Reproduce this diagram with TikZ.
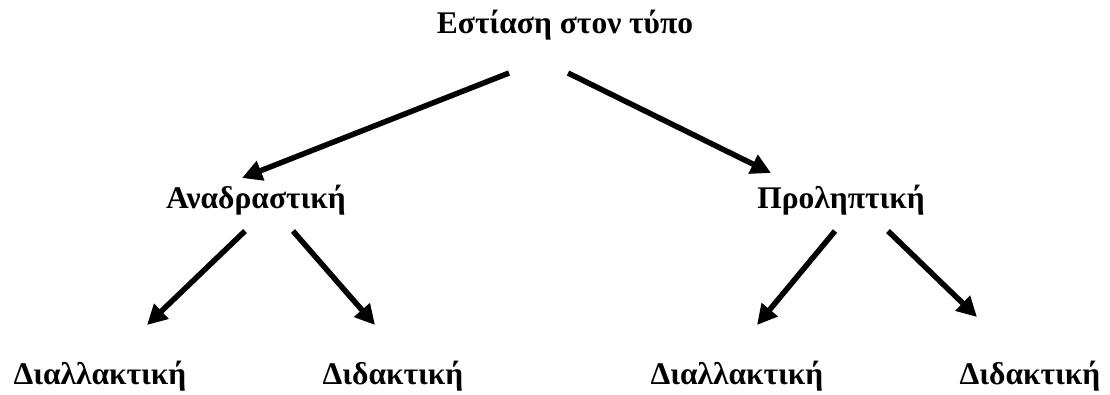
\documentclass[tikz,border=0pt]{standalone}
\usepackage{fontspec}
\setmainfont{Liberation Serif}
\usetikzlibrary{arrows.meta}
\begin{document}
\begin{tikzpicture}[x=1pt,y=-1pt,
  lbl/.style={font=\fontsize{31.5}{34}\selectfont\bfseries, inner sep=0pt, anchor=base},
  conn/.style={line width=5.5pt, -{Triangle[length=20pt,width=20pt]}}]
\useasboundingbox (0,0) rectangle (1110,394);
% labels
\node[lbl] (root) at (565,33) {Εστίαση στον τύπο};
\node[lbl] (ana) at (256,208) {Αναδραστική};
\node[lbl] (pro) at (841,208) {Προληπτική};
\node[lbl] (ad) at (100,384) {Διαλλακτική};
\node[lbl] (ai) at (393,384) {Διδακτική};
\node[lbl] (pd) at (737,384) {Διαλλακτική};
\node[lbl] (pi) at (1030,384) {Διδακτική};
% arrow end points
\coordinate (r1) at (509,73);  \coordinate (r1e) at (242,178);
\coordinate (r2) at (568,73);  \coordinate (r2e) at (771,173);
\coordinate (a1) at (245,231); \coordinate (a1e) at (147,325);
\coordinate (a2) at (293,231); \coordinate (a2e) at (375,325);
\coordinate (p1) at (835,231); \coordinate (p1e) at (757,325);
\coordinate (p2) at (888,231); \coordinate (p2e) at (977,317);
% connectors
\draw[conn] (r1) -- (r1e);
\draw[conn] (r2) -- (r2e);
\draw[conn] (a1) -- (a1e);
\draw[conn] (a2) -- (a2e);
\draw[conn] (p1) -- (p1e);
\draw[conn] (p2) -- (p2e);
\end{tikzpicture}
\end{document}
